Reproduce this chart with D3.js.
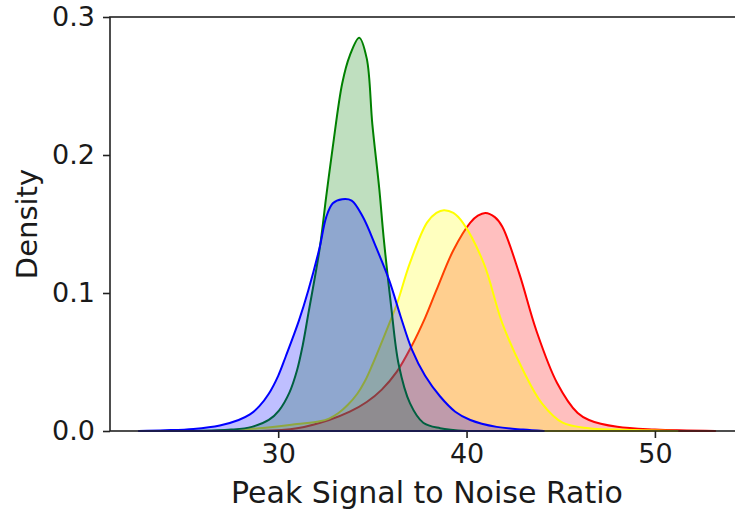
<!DOCTYPE html>
<html>
<head>
<meta charset="utf-8">
<script src="https://cdn.jsdelivr.net/npm/d3@7"></script>
<style>
  body { margin: 0; background: #fff; }
  text { font-family: "DejaVu Sans", sans-serif; fill: #1a1a1a; }
</style>
</head>
<body>
<div id="chart"></div>
<script>
// density curves: [psnr, density]
const blueSeries = [[22.6,0],[24,0.0005],[25.5,0.0015],[26.9,0.004],[27.9,0.008],[28.5,0.012],[29.0,0.018],[29.5,0.027],[30.0,0.04],[30.4,0.054],[31.1,0.08],[31.6,0.102],[32.2,0.133],[32.55,0.155],[32.9,0.165],[33.4,0.168],[33.9,0.167],[34.5,0.155],[35.2,0.133],[35.9,0.109],[36.5,0.083],[37.1,0.059],[37.8,0.04],[38.6,0.025],[39.4,0.014],[40.2,0.008],[41.6,0.003],[43,0.001],[44.1,0]];
const greenSeries = [[25.5,0],[27.5,0.001],[28.6,0.003],[29.5,0.008],[30.05,0.015],[30.6,0.028],[31.0,0.044],[31.3,0.062],[31.6,0.085],[32.2,0.132],[32.55,0.17],[32.9,0.206],[33.4,0.252],[33.8,0.272],[34.3,0.285],[34.7,0.27],[35.0,0.222],[35.37,0.175],[35.6,0.14],[36.0,0.09],[36.4,0.048],[37.0,0.02],[37.7,0.006],[38.6,0.002],[40,0]];
const yellowSeries = [[27,0],[29,0.002],[31,0.005],[32.2,0.007],[32.7,0.009],[33.2,0.013],[33.7,0.019],[34.2,0.027],[34.6,0.036],[35.0,0.048],[35.9,0.078],[36.3,0.092],[37.0,0.122],[37.9,0.151],[38.4,0.158],[38.8,0.16],[39.3,0.158],[39.8,0.151],[40.9,0.122],[41.9,0.078],[43.0,0.044],[44.0,0.02],[45.1,0.006],[46.5,0.002],[48,0.001],[51.2,0]];
const redSeries = [[29,0],[31,0.002],[32.7,0.008],[33.8,0.014],[34.7,0.021],[35.5,0.03],[36.3,0.043],[37.1,0.062],[37.8,0.082],[38.4,0.102],[39.3,0.131],[40.2,0.151],[40.6,0.156],[41.0,0.158],[41.5,0.155],[41.9,0.148],[42.8,0.114],[43.7,0.073],[44.8,0.035],[45.9,0.013],[46.5,0.008],[48,0.003],[50,0.001],[53.2,0]];

// drawn in this order (later ones on top)
const seriesList = [
  { values: redSeries, color: "red" },
  { values: yellowSeries, color: "yellow" },
  { values: greenSeries, color: "green" },
  { values: blueSeries, color: "blue" }
];

const xTicks = [30, 40, 50];
const yTicks = [0, 0.1, 0.2, 0.3];
const xDomain = [21.07, 54.73];
const yDomain = [0, 0.3];

const width = 735, height = 510;
const margin = { top: 17, right: -9, bottom: 79, left: 110 };

const svg = d3.select("#chart").append("svg")
    .attr("width", width)
    .attr("height", height);

const x = d3.scaleLinear().domain(xDomain).range([margin.left, width - margin.right]);
const y = d3.scaleLinear().domain(yDomain).range([height - margin.bottom, margin.top]);

const area = d3.area()
    .x(d => x(d[0]))
    .y0(y(0))
    .y1(d => y(Math.max(0, d[1])))
    .curve(d3.curveCatmullRom.alpha(0.5));

const plot = svg.append("g");
seriesList.forEach(s => {
  plot.append("path")
      .attr("d", area(s.values) + "Z")
      .attr("fill", s.color)
      .attr("fill-opacity", 0.25)
      .attr("stroke", s.color)
      .attr("stroke-width", 2)
      .attr("stroke-linejoin", "round");
});

// axes
const xAxis = svg.append("g")
    .attr("transform", `translate(0,${y(0)})`)
    .call(d3.axisBottom(x).tickValues(xTicks).tickSize(7).tickPadding(6).tickFormat(d3.format("d")));
const yAxis = svg.append("g")
    .attr("transform", `translate(${margin.left},0)`)
    .call(d3.axisLeft(y).tickValues(yTicks).tickSize(7).tickPadding(8).tickFormat(d3.format(".1f")));

[xAxis, yAxis].forEach(a => {
  a.select(".domain").remove();
  a.selectAll(".tick line").attr("stroke", "#222").attr("stroke-width", 1.6);
  a.selectAll(".tick text").style("font-size", "27px").attr("fill", "#1a1a1a");
});

// spines
svg.append("rect")
    .attr("x", margin.left)
    .attr("y", margin.top)
    .attr("width", x.range()[1] - margin.left)
    .attr("height", y(0) - margin.top)
    .attr("fill", "none")
    .attr("stroke", "#222")
    .attr("stroke-width", 1.6);

svg.append("text")
    .attr("x", (x.range()[0] + x.range()[1]) / 2)
    .attr("y", 503)
    .attr("text-anchor", "middle")
    .style("font-size", "30px")
    .text("Peak Signal to Noise Ratio");

svg.append("text")
    .attr("transform", `translate(37,${(y(0) + margin.top) / 2}) rotate(-90)`)
    .attr("text-anchor", "middle")
    .style("font-size", "29px")
    .text("Density");
</script>
</body>
</html>
